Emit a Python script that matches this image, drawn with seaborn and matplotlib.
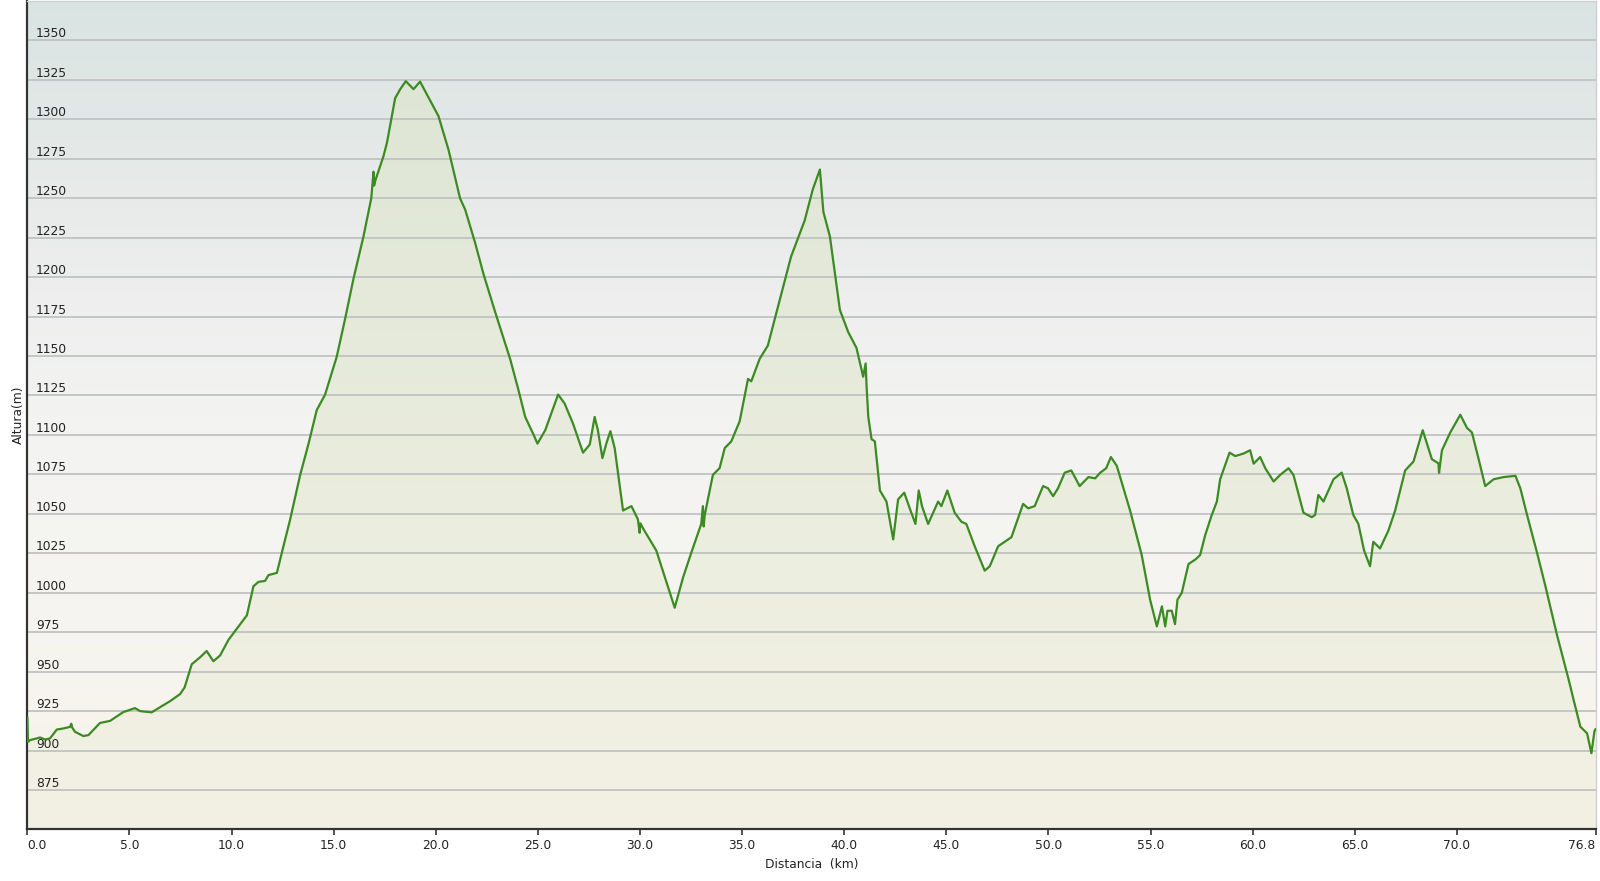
import numpy as np
import pandas as pd
import matplotlib
matplotlib.use("Agg")
import matplotlib.pyplot as plt
import seaborn as sns
from matplotlib.colors import LinearSegmentedColormap

# elevation profile (km, m)
distance_km = [
    0.00, 0.03, 0.15, 0.46, 0.62, 0.87, 1.11, 1.44, 1.76, 2.09, 2.15, 2.20, 2.33, 2.74, 2.99,
    3.56, 4.05, 4.70, 5.27, 5.52, 6.09, 6.50, 6.99, 7.48, 7.70, 8.05, 8.45, 8.78, 9.11, 9.44,
    9.85, 10.34, 10.75, 11.07, 11.32, 11.64, 11.81, 12.22, 12.54, 12.87, 13.36, 13.77, 14.17,
    14.58, 15.15, 15.56, 15.97, 16.46, 16.84, 16.95, 16.98, 17.04, 17.44, 17.61, 18.01, 18.26,
    18.53, 18.91, 19.23, 19.72, 20.13, 20.62, 21.19, 21.44, 21.93, 22.34, 22.91, 23.64, 24.05,
    24.38, 24.79, 24.98, 25.36, 25.99, 26.31, 26.72, 27.21, 27.54, 27.78, 27.94, 28.16, 28.35,
    28.55, 28.76, 29.17, 29.58, 29.90, 29.98, 30.02, 30.15, 30.80, 31.29, 31.70, 32.11, 32.51,
    33.00, 33.08, 33.12, 33.17, 33.57, 33.90, 34.15, 34.47, 34.88, 35.29, 35.45, 35.86, 36.26,
    37.00, 37.40, 38.06, 38.46, 38.81, 38.98, 39.30, 39.79, 40.20, 40.60, 40.93, 41.05, 41.10,
    41.18, 41.34, 41.50, 41.75, 42.07, 42.40, 42.64, 42.94, 43.21, 43.49, 43.65, 43.81, 44.11,
    44.60, 44.76, 45.05, 45.41, 45.74, 45.98, 46.39, 46.88, 47.13, 47.54, 47.86, 48.19, 48.76,
    49.01, 49.33, 49.74, 49.98, 50.23, 50.47, 50.80, 51.12, 51.53, 51.96, 52.29, 52.54, 52.83,
    53.06, 53.35, 54.00, 54.57, 54.98, 55.31, 55.56, 55.72, 55.83, 56.04, 56.20, 56.32, 56.53,
    56.86, 57.19, 57.43, 57.68, 58.00, 58.25, 58.41, 58.87, 59.15, 59.55, 59.88, 60.05, 60.37,
    60.62, 61.03, 61.35, 61.76, 62.00, 62.49, 62.90, 63.06, 63.22, 63.47, 63.96, 64.36, 64.61,
    64.93, 65.18, 65.46, 65.75, 65.91, 66.24, 66.65, 66.98, 67.47, 67.88, 68.33, 68.78, 69.10,
    69.13, 69.27, 69.68, 70.17, 70.50, 70.74, 71.07, 71.39, 71.80, 72.29, 72.87, 73.11, 73.44,
    73.93, 74.34, 74.91, 75.48, 75.72, 76.05, 76.38, 76.59, 76.74, 76.80,
]
altitude_m = [
    921.0, 905.6, 906.7, 907.7, 908.3, 907.0, 907.7, 913.3, 914.0, 915.0, 917.0, 914.5, 911.9, 909.2, 909.8,
    917.5, 918.8, 924.4, 926.9, 925.0, 924.2, 927.5, 931.3, 935.8, 940.0, 954.7, 959.0, 963.1, 956.6, 960.3,
    970.2, 978.7, 985.7, 1004.1, 1006.9, 1007.5, 1011.2, 1012.6, 1029.5, 1046.5, 1074.7, 1094.5, 1115.7,
    1125.6, 1149.6, 1173.6, 1199.0, 1225.8, 1249.9, 1266.8, 1258.0, 1261.2, 1276.7, 1285.2, 1313.4, 1319.1,
    1324.2, 1319.1, 1323.9, 1312.0, 1302.1, 1280.9, 1249.9, 1242.8, 1221.6, 1201.8, 1177.8, 1148.2, 1128.4,
    1111.4, 1100.1, 1094.5, 1103.0, 1125.6, 1119.9, 1107.2, 1088.8, 1093.9, 1111.4, 1102.9, 1085.3, 1094.5,
    1102.4, 1091.7, 1052.1, 1054.9, 1046.5, 1038.0, 1044.0, 1040.8, 1026.7, 1006.9, 990.5, 1009.7, 1025.3,
    1043.6, 1054.9, 1042.0, 1049.3, 1074.7, 1079.0, 1091.7, 1095.9, 1108.6, 1135.5, 1134.0, 1148.2, 1156.6,
    1193.4, 1213.1, 1235.7, 1255.5, 1268.2, 1241.4, 1225.8, 1179.2, 1165.1, 1155.2, 1136.9, 1145.3, 1130.0,
    1111.4, 1097.3, 1096.0, 1064.8, 1057.8, 1033.8, 1059.2, 1063.4, 1053.5, 1043.6, 1064.8, 1054.9, 1043.6,
    1057.8, 1054.9, 1064.8, 1050.7, 1045.0, 1043.6, 1029.5, 1014.0, 1016.8, 1029.5, 1032.3, 1035.2, 1056.3,
    1053.5, 1054.9, 1067.6, 1066.2, 1061.2, 1066.2, 1076.1, 1077.5, 1067.6, 1073.3, 1072.5, 1076.1, 1078.9,
    1086.0, 1080.4, 1052.1, 1023.9, 995.6, 978.7, 991.4, 978.7, 988.6, 988.6, 980.1, 995.6, 999.9,
    1018.2, 1021.0, 1023.9, 1036.6, 1049.3, 1057.8, 1071.9, 1088.8, 1086.6, 1088.2, 1090.3, 1081.8, 1086.0,
    1078.9, 1070.5, 1074.7, 1078.9, 1074.7, 1050.7, 1047.9, 1049.3, 1062.0, 1057.8, 1071.9, 1076.1, 1066.2,
    1049.3, 1043.6, 1026.7, 1016.8, 1032.3, 1028.1, 1039.4, 1052.1, 1077.5, 1083.2, 1103.0, 1084.6, 1082.0,
    1076.0, 1090.2, 1101.6, 1112.8, 1104.4, 1101.6, 1084.6, 1067.6, 1071.9, 1073.3, 1074.1, 1066.2, 1049.3,
    1025.3, 1004.1, 973.0, 944.8, 932.1, 915.1, 910.9, 898.3, 912.3, 913.7,
]
x_ticks = [0, 5, 10, 15, 20, 25, 30, 35, 40, 45, 50, 55, 60, 65, 70, 76.8]
y_ticks = list(range(875, 1351, 25))

df = pd.DataFrame({"km": distance_km, "alt": altitude_m})

sns.set_style("white")
plt.rcParams["font.family"] = ["DejaVu Sans"]

fig = plt.figure(figsize=(16, 8.81), dpi=100)
ax = fig.add_axes([0.0171, 0.0585, 0.9802, 0.9404])

x_min, x_max = 0, 76.8
y_min, y_max = 850, 1375

# background gradient (top bluish grey -> white -> cream)
bg_cmap = LinearSegmentedColormap.from_list(
    "bg", ["#f6f3e8", "#f6f5f1", "#f3f3f2", "#e9ebea", "#d9e4e2"])
grad = np.linspace(0, 1, 256).reshape(-1, 1)
ax.imshow(grad, extent=[x_min, x_max, y_min, y_max], origin="lower",
          aspect="auto", cmap=bg_cmap, zorder=0)

# area under the profile with a faint green gradient
fill = ax.fill_between(df["km"], y_min, df["alt"], facecolor="none",
                       edgecolor="none", zorder=0.2)
fill_cmap = LinearSegmentedColormap.from_list(
    "fill", ["#f3f1e4", "#eceedf", "#e4e9d9", "#dce4d2"])
img = ax.imshow(grad, extent=[x_min, x_max, y_min, y_max], origin="lower",
                aspect="auto", cmap=fill_cmap, zorder=0.2)
img.set_clip_path(fill.get_paths()[0], transform=ax.transData)

sns.lineplot(data=df, x="km", y="alt", ax=ax, sort=False, estimator=None,
             color="#3b8a22", linewidth=1.6, zorder=3)

ax.set_xlim(x_min, x_max)
ax.set_ylim(y_min, y_max)
ax.set_xticks(x_ticks)
ax.set_xticklabels([f"{t:.1f}" for t in x_ticks])
ax.set_yticks(y_ticks)
ax.set_yticklabels([str(t) for t in y_ticks])

ax.set_axisbelow(True)
ax.grid(axis="y", color="#bfc3c2", linewidth=1.3, zorder=0.5)
ax.grid(axis="x", visible=False)

ax.tick_params(axis="x", direction="out", length=4, width=1.2, color="#333333",
               labelsize=8.8, pad=3, labelcolor="#222222", bottom=True)
ax.tick_params(axis="y", length=0, pad=-6.3, labelsize=8.8, labelcolor="#222222")
for lab in ax.get_yticklabels():
    lab.set_horizontalalignment("left")
    lab.set_verticalalignment("bottom")
xlabels = ax.get_xticklabels()
xlabels[0].set_horizontalalignment("left")
xlabels[-1].set_horizontalalignment("right")

for side in ["left", "bottom"]:
    ax.spines[side].set_color("#333333")
    ax.spines[side].set_linewidth(1.6)
for side in ["top", "right"]:
    ax.spines[side].set_visible(True)
    ax.spines[side].set_color("#cfcfcf")
    ax.spines[side].set_linewidth(1.0)

ax.set_xlabel("Distancia  (km)", fontsize=8.8, color="#222222", labelpad=4)
ax.set_ylabel("Altura(m)", fontsize=8.8, color="#222222", labelpad=2)

fig.savefig("out.png", dpi=100, facecolor="white")
